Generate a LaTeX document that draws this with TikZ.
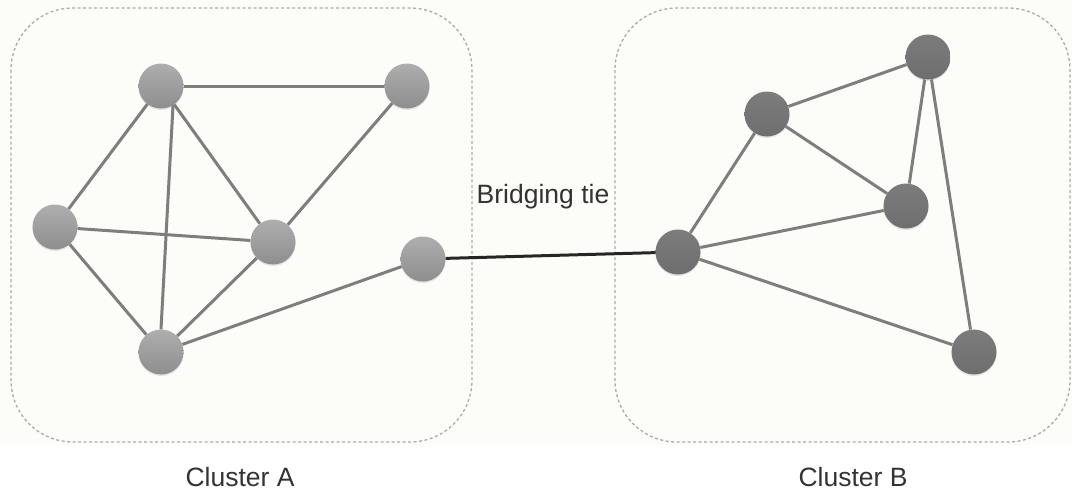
\documentclass[tikz,border=0pt]{standalone}
\usepackage{fontspec}
\setmainfont{Liberation Sans}
\usetikzlibrary{shadows}
\begin{document}
\begin{tikzpicture}[x=1pt,y=-1pt,
  cluster/.style={draw=gray!65,dash pattern=on 3pt off 2.5pt,line width=1.3pt,rounded corners=62pt},
  na/.style={circle,minimum size=45pt,inner sep=0pt,top color=nodeAtop,bottom color=nodeAbot,drop shadow={shadow xshift=0pt,shadow yshift=-1.5pt,opacity=0.2}},
  nb/.style={circle,minimum size=45pt,inner sep=0pt,top color=nodeBtop,bottom color=nodeBbot,drop shadow={shadow xshift=0pt,shadow yshift=-1.5pt,opacity=0.2}},
  edge/.style={draw=edgecol,line width=3pt},
  bridge/.style={draw=black!85,line width=3pt},
  lbl/.style={font=\fontsize{26.5}{30}\selectfont,text=black!80}
]
\definecolor{clusterfill}{HTML}{FCFCF8}
\definecolor{nodeAtop}{HTML}{AEAEAE}
\definecolor{nodeAbot}{HTML}{8E8E8E}
\definecolor{nodeBtop}{HTML}{7C7C7C}
\definecolor{nodeBbot}{HTML}{6E6E6E}
\definecolor{edgecol}{HTML}{7E7E7E}
\useasboundingbox (0,0) rectangle (1072,490);
\fill[white] (0,0) rectangle (1072,490);
\fill[clusterfill] (0,0) rectangle (1072,445);
\path[cluster] (11,8) rectangle (472,442);
\path[cluster] (615,8) rectangle (1070,442);
% cluster A nodes
\node[na] (a1) at (161,86) {};
\node[na] (a2) at (407,86) {};
\node[na] (a3) at (55,227) {};
\node[na] (a4) at (273,242) {};
\node[na] (a5) at (423,259) {};
\node[na] (a6) at (161,352) {};
% cluster B nodes
\node[nb] (b1) at (678,252) {};
\node[nb] (b2) at (767,114) {};
\node[nb] (b3) at (928,57) {};
\node[nb] (b4) at (906,206) {};
\node[nb] (b5) at (974,352) {};
% edges
\path[edge] (a1) -- (a2);
\path[edge] (a1) -- (a3);
\path[edge] (a1.-58) -- (a6.90);
\path[edge] (a1) -- (a4);
\path[edge] (a2) -- (a4);
\path[edge] (a3) -- (a4);
\path[edge] (a3) -- (a6);
\path[edge] (a6) -- (a4);
\path[edge] (a6) -- (a5);
\path[edge] (b1) -- (b2);
\path[edge] (b1) -- (b4);
\path[edge] (b1) -- (b5);
\path[edge] (b2) -- (b3);
\path[edge] (b2) -- (b4);
\path[edge] (b3) -- (b4);
\path[edge] (b3) -- (b5);
\path[bridge] (a5) -- (b1);
\node[lbl] (bt) at (543,197) {Bridging tie};
\node[lbl] (ca) at (240,477) {Cluster A};
\node[lbl] (cb) at (853,477) {Cluster B};
\end{tikzpicture}
\end{document}
